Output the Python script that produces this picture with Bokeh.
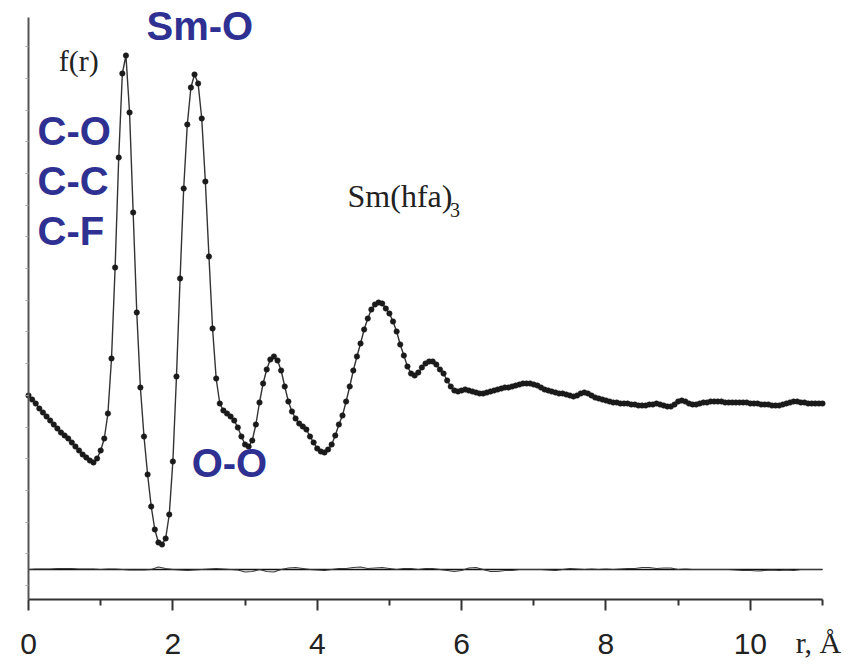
import numpy as np
from bokeh.plotting import figure
from bokeh.models import FixedTicker, Label, Range1d
from bokeh.embed import file_html
from bokeh.resources import INLINE

# ---- data (f(r) in arbitrary units, r in Angstrom) ----
r = np.round(np.arange(221) * 0.05, 2)
f_r = [
    8, 4, 0, -5, -9, -13, -17, -21, -25, -29, -32, -35, -39, -43, -47, -51, -54, -57, -59, -55,
    -47, -35, -10, 45, 136, 246, 330, 348, 291, 191, 91, 16, -33, -71, -103, -126, -139, -141, -135, -111,
    -58, 27, 125, 215, 279, 316, 329, 320, 285, 222, 147, 75, 25, 0, -7, -10, -13, -17, -24, -33,
    -41, -43, -37, -21, 1, 20, 34, 44, 47, 43, 33, 17, 2, -8, -15, -20, -23, -26, -33, -39,
    -45, -48, -49, -46, -41, -32, -21, -12, 2, 17, 33, 47, 60, 74, 85, 94, 99, 101, 100, 95,
    90, 82, 72, 59, 48, 37, 30, 28, 31, 36, 40, 42, 42, 39, 34, 30, 23, 17, 13, 12,
    13, 14, 13, 12, 11, 10, 10, 11, 12, 13, 14, 15, 16, 16, 17, 18, 19, 20, 20, 20,
    19, 18, 16, 14, 13, 12, 11, 10, 10, 9, 8, 7, 8, 10, 11, 10, 8, 6, 5, 4,
    3, 2, 1, 1, 0, 0, 0, -1, -1, -2, -2, -2, -1, -1, 0, -1, -2, -3, -3, -1,
    2, 3, 2, 0, -1, -1, 0, 1, 1, 2, 2, 2, 2, 1, 1, 1, 1, 1, 1, 1,
    0, 0, 0, -1, -1, -1, -2, -2, -2, -1, 0, 1, 2, 2, 1, 1, 0, 0, 0, 0,
    0,
]
r_diff = np.round(np.arange(111) * 0.1, 1)
diff = [
    0, 0.5, 0.5, 0.5, 1, 1, 1, 0.5, 0.5, 0.5,
    0, 0.5, 0.5, 0, -0.5, -0.5, -0.5, 0, 2.5, 1,
    0, -0.5, -1, -0.5, 0, 0.5, 1, 0.5, 0, -0.5,
    -2.5, -2, 0, -2, -2.5, 0, 1.5, 2, 1, 0,
    -0.5, -1, 0, 1, 1, 2, 2.5, 1, 1.5, 2,
    1, 0, 1, 1, 0, 1, 1, 0, -1, -2,
    -1, 1.5, 2, 0, -2, -2, -1, -1, 0, 0,
    0, 0, -0.5, -1, 0, 1, 0.5, 0, 0.5, 0,
    0.5, 0, 0.5, 1, 1, 2, 2, 1, 1.5, 1.5,
    0, 0.5, 0, 0, 0, 0, 0, 0, -0.5, -1,
    -1, -1.5, -1, -0.5, -1, -0.5, -1, 0, 0, 0,
    0,
]
diff_offset = -166
x_ticks = [0, 2, 4, 6, 8, 10]
x_minor = [1, 3, 5, 7, 9, 11]
r_bounds = (0, 11)
f_bounds = (-196, 386)

assert len(f_r) == len(r)
assert len(diff) == len(r_diff)

BLUE = "#2E3192"

# frame covers the whole canvas; axes are drawn at fixed locations inside it
p = figure(width=861, height=666, output_backend="svg", toolbar_location=None,
           x_range=Range1d(-28 / 72.18, 11 + 39 / 72.18), y_range=Range1d(-263, 403),
           min_border=0, min_border_left=0, min_border_right=0,
           min_border_top=0, min_border_bottom=0)
p.outline_line_color = None
p.grid.visible = False
p.background_fill_color = "white"

# difference curve and its baseline
p.line([0, 11], [diff_offset, diff_offset], line_color="#111111", line_width=1.6)
p.line(r_diff, np.array(diff) + diff_offset, line_color="#3a3a3a", line_width=1.2)

# f(r)
p.line(r, f_r, line_color="#333333", line_width=1.4)
p.scatter(r, f_r, size=5.5, marker="circle", fill_color="#1a1a1a", line_color="#1a1a1a", line_width=0.5)

# x axis
xa = p.xaxis[0]
xa.fixed_location = f_bounds[0]
xa.bounds = r_bounds
xa.ticker = FixedTicker(ticks=x_ticks, minor_ticks=x_minor)
xa.axis_line_width = 2
xa.axis_line_color = "#333333"
xa.major_tick_line_color = "#333333"
xa.major_tick_line_width = 2
xa.major_tick_out = 11
xa.major_tick_in = 0
xa.minor_tick_line_color = "#333333"
xa.minor_tick_line_width = 2
xa.minor_tick_out = 6
xa.minor_tick_in = 0
xa.major_label_text_font = "Liberation Sans"
xa.major_label_text_font_size = "30px"
xa.major_label_text_color = "#222222"
xa.major_label_standoff = 23

# y axis (tick marks only, no labels)
y_tick_pos = [float(v) for v in np.round(np.arange(-182, 386, 31.7), 1)]
ya = p.yaxis[0]
ya.fixed_location = r_bounds[0]
ya.bounds = f_bounds
ya.ticker = FixedTicker(ticks=y_tick_pos, minor_ticks=[])
ya.major_label_overrides = {v: "" for v in y_tick_pos}
ya.axis_line_width = 2
ya.axis_line_color = "#555555"
ya.major_tick_line_color = "#aaaaaa"
ya.major_tick_line_width = 1
ya.major_tick_out = 3
ya.major_tick_in = 0
ya.major_label_standoff = 0

def lab(x, y, text, font, size, color, style="normal"):
    p.add_layout(Label(x=x, y=y, text=text, text_font=font, text_font_size=size,
                       text_color=color, text_font_style=style, text_baseline="alphabetic",
                       text_align="left"))

lab(1.635, 378, "Sm-O", "Liberation Sans", "40px", BLUE, "bold")
lab(0.125, 273, "C-O", "Liberation Sans", "40px", BLUE, "bold")
lab(0.125, 223, "C-C", "Liberation Sans", "40px", BLUE, "bold")
lab(0.125, 173, "C-F", "Liberation Sans", "40px", BLUE, "bold")
lab(2.26, -59, "O-O", "Liberation Sans", "40px", BLUE, "bold")
lab(0.42, 343, "f(r)", "Liberation Serif", "30px", "#222222")
lab(4.42, 208, "Sm(hfa)", "Liberation Serif", "32px", "#222222")
lab(5.84, 194, "3", "Liberation Serif", "20px", "#222222")
lab(10.63, -239, "r, Å", "Liberation Serif", "30px", "#222222")

open("out.html", "w").write(file_html(p, INLINE))
